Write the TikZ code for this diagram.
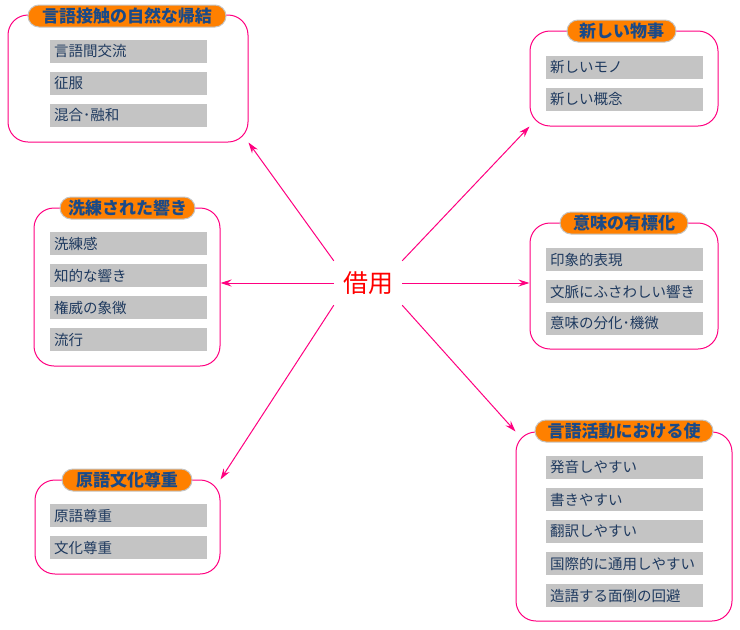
\documentclass[tikz,border=0pt]{standalone}
\usepackage{fontspec}
\setmainfont{Noto Sans CJK JP}
\usetikzlibrary{arrows.meta}
\definecolor{pinkline}{HTML}{FF0080}
\definecolor{pillfill}{HTML}{FF8000}
\definecolor{pilltext}{HTML}{1A4A88}
\definecolor{itemfill}{HTML}{C4C4C4}
\definecolor{itemtext}{HTML}{1F3A5F}
\tikzset{
  x=1pt,y=-1pt,
  groupbox/.style={draw=pinkline,line width=1pt,rounded corners=20pt,inner sep=0pt},
  pill/.style={draw=itemfill,fill=pillfill,line width=1pt,rounded corners=11pt,minimum height=22pt,inner sep=0pt,text=pilltext,font=\fontsize{17}{18}\selectfont\bfseries},
  itembox/.style={fill=itemfill,minimum width=157pt,minimum height=23pt,text width=149pt,inner xsep=4pt,inner ysep=0pt,align=left,anchor=west,text=itemtext,font=\fontsize{14.5}{15}\selectfont},
  link/.style={draw=pinkline,line width=1pt,-{Stealth[length=11pt,width=7pt]}},
}
\begin{document}
\begin{tikzpicture}
\useasboundingbox (0,0) rectangle (740,630);
% center
\node[minimum width=68pt,minimum height=44pt,inner sep=0pt,text=red,font=\fontsize{25}{26}\selectfont] (c) at (368,283) {借用};
% boxes
\node[groupbox,minimum width=240pt,minimum height=127pt] (b1) at (128,78.5) {};
\node[groupbox,minimum width=186pt,minimum height=158pt] (b2) at (127,287) {};
\node[groupbox,minimum width=185pt,minimum height=94pt] (b3) at (127.5,527) {};
\node[groupbox,minimum width=188pt,minimum height=95pt] (b4) at (624,78.5) {};
\node[groupbox,minimum width=188pt,minimum height=126pt] (b5) at (624,286) {};
\node[groupbox,minimum width=216pt,minimum height=189pt] (b6) at (624,526.5) {};
% titles
\node[pill,minimum width=198pt] (t1) at (127,16) {言語接触の自然な帰結};
\node[pill,minimum width=135pt] (t2) at (127.5,208) {洗練された響き};
\node[pill,minimum width=130pt] (t3) at (127,480) {原語文化尊重};
\node[pill,minimum width=109pt] (t4) at (621.5,31) {新しい物事};
\node[pill,minimum width=128pt] (t5) at (624,223) {意味の有標化};
\node[pill,minimum width=178pt] (t6) at (624,431) {言語活動における使};
% items box 1
\node[itembox] (i11) at (50,51.5) {言語間交流};
\node[itembox] (i12) at (50,83.5) {征服};
\node[itembox] (i13) at (50,115.5) {混合･融和};
% items box 2
\node[itembox] (i21) at (50,243.5) {洗練感};
\node[itembox] (i22) at (50,275.5) {知的な響き};
\node[itembox] (i23) at (50,307.5) {権威の象徴};
\node[itembox] (i24) at (50,339.5) {流行};
% items box 3
\node[itembox] (i31) at (50,515.5) {原語尊重};
\node[itembox] (i32) at (50,547.5) {文化尊重};
% items box 4
\node[itembox] (i41) at (546,67.5) {新しいモノ};
\node[itembox] (i42) at (546,99.5) {新しい概念};
% items box 5
\node[itembox] (i51) at (546,259.5) {印象的表現};
\node[itembox] (i52) at (546,291.5) {文脈にふさわしい響き};
\node[itembox] (i53) at (546,323.5) {意味の分化･機微};
% items box 6
\node[itembox] (i61) at (546,467.5) {発音しやすい};
\node[itembox] (i62) at (546,499.5) {書きやすい};
\node[itembox] (i63) at (546,531.5) {翻訳しやすい};
\node[itembox] (i64) at (546,563.5) {国際的に通用しやすい};
\node[itembox] (i65) at (546,595.5) {造語する面倒の回避};
% links
\draw[link] (c.north west) -- (b1.south east);
\draw[link] (c.west) -- (c.west -| b2.east);
\draw[link] (c.south west) -- (b3.north east);
\draw[link] (c.north east) -- (b4.south west);
\draw[link] (c.east) -- (c.east -| b5.west);
\draw[link] (c.south east) -- (b6.north west);
\end{tikzpicture}
\end{document}
